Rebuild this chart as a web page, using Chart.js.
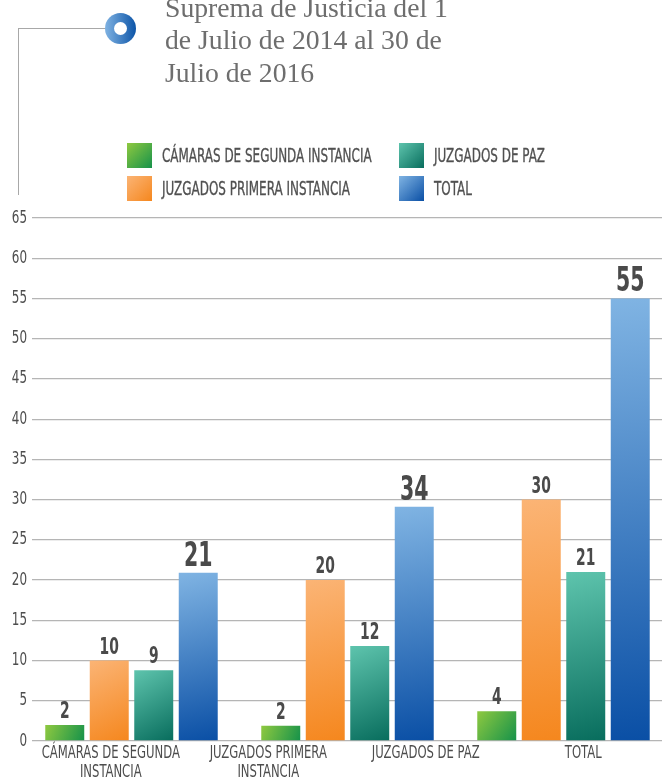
<!DOCTYPE html>
<html><head><meta charset="utf-8">
<script src="https://cdn.jsdelivr.net/npm/chart.js@4.4.1/dist/chart.umd.min.js"></script>
<style>
html,body{margin:0;padding:0;background:#fff;}
#wrap{position:relative;width:663px;height:780px;overflow:hidden;background:#fff;}
#c{position:absolute;left:0;top:0;}
.title{position:absolute;left:165px;top:-8px;font-family:"Liberation Serif","DejaVu Serif",serif;font-size:27.7px;line-height:32.3px;color:#6e6e6e;white-space:nowrap;}
.hline{position:absolute;left:18px;top:28px;width:90px;height:0;border-top:1.5px solid #a8a8a8;}
.vline{position:absolute;left:18px;top:28px;width:0;height:167px;border-left:1.5px solid #a8a8a8;}
.icon{position:absolute;left:105px;top:13px;width:31px;height:31px;border-radius:50%;background:linear-gradient(90deg,#7fb2e2,#0d55a8);}
.icon::after{content:"";position:absolute;left:9px;top:9px;width:13px;height:13px;border-radius:50%;background:#fff;}
.lbox{position:absolute;width:25px;height:25px;}
.ltxt{position:absolute;height:25px;line-height:25px;font-family:"Liberation Sans Narrow","DejaVu Sans Condensed",sans-serif;font-size:20px;color:#505050;-webkit-text-stroke:0.35px #505050;white-space:nowrap;transform:scaleX(0.665);transform-origin:0 50%;}
</style>
</head><body>
<div id="wrap">
  <canvas id="c" width="663" height="780"></canvas>
  <div class="hline"></div><div class="vline"></div><div class="icon"></div>
  <div class="title">Suprema de Justicia del 1<br>de Julio de 2014 al 30 de<br>Julio de 2016</div>
  <div id="legend"></div>
</div>
<script>
// ---- data ----
const categories = [['CÁMARAS DE SEGUNDA','INSTANCIA'],['JUZGADOS PRIMERA','INSTANCIA'],'JUZGADOS DE PAZ','TOTAL'];
const seriesNames = ['CÁMARAS DE SEGUNDA INSTANCIA','JUZGADOS PRIMERA INSTANCIA','JUZGADOS DE PAZ','TOTAL'];
const groupIndex = [0, 1, 2];
const camarasValues = [2, 1.9, 3.7];
const camarasLabels = ['2', '2', '4'];
const primeraValues = [10, 20, 30];
const primeraLabels = ['10', '20', '30'];
const pazValues = [8.8, 11.8, 21];
const pazLabels = ['9', '12', '21'];
const totalValues = [20.9, 29.1, 55];
const totalLabels = ['21', '34', '55'];
const yMin = 0, yMax = 65, yStep = 5;

// ---- styles ----
const gradColors = [['#8fc940','#16924a'],['#fbb475','#f5871e'],['#5ec4ad','#086d5d'],['#80b4e3','#0a4fa5']];
const labelSizes = [23, 23, 23, 34];
const NARROW = "'Liberation Sans Narrow','DejaVu Sans Condensed',sans-serif";

const values = [camarasValues, primeraValues, pazValues, totalValues];
const valueLabels = [camarasLabels, primeraLabels, pazLabels, totalLabels];

// legend (column-major 2x2)
const legendPos = [[127,143],[127,176],[399,143],[399,176]];
const leg = document.getElementById('legend');
seriesNames.forEach((n, i) => {
  const [x, y] = legendPos[i];
  const b = document.createElement('div');
  b.className = 'lbox';
  b.style.left = x + 'px'; b.style.top = y + 'px';
  b.style.background = `linear-gradient(135deg, ${gradColors[i][0]}, ${gradColors[i][1]})`;
  const t = document.createElement('div');
  t.className = 'ltxt';
  t.style.left = (x + 35) + 'px'; t.style.top = y + 'px';
  t.textContent = n;
  leg.appendChild(b); leg.appendChild(t);
});

// condensed text rendering on the canvas (narrow typeface look)
const canvas = document.getElementById('c');
const ctx2d = canvas.getContext('2d');
let textScaleX = 0.76;
const origFillText = ctx2d.fillText.bind(ctx2d);
ctx2d.fillText = function (text, x, y, maxWidth) {
  this.save();
  this.translate(x, y);
  this.scale(textScaleX, 1);
  if (maxWidth !== undefined) origFillText(text, 0, 0, maxWidth / textScaleX);
  else origFillText(text, 0, 0);
  this.restore();
};

const gradientPlugin = {
  id: 'grad',
  beforeDatasetsDraw(chart) {
    const ctx = chart.ctx;
    chart.data.datasets.forEach((ds, di) => {
      chart.getDatasetMeta(di).data.forEach(el => {
        const w = el.width;
        const g = ctx.createLinearGradient(el.x - w / 2, el.y, el.x + w / 2, el.base);
        g.addColorStop(0, gradColors[di][0]);
        g.addColorStop(1, gradColors[di][1]);
        el.options.backgroundColor = g;
      });
    });
  }
};
const labelPlugin = {
  id: 'vlabels',
  afterDatasetsDraw(chart) {
    const ctx = chart.ctx;
    const prev = textScaleX;
    textScaleX = 0.67;
    chart.data.datasets.forEach((ds, di) => {
      chart.getDatasetMeta(di).data.forEach((el, i) => {
        ctx.save();
        ctx.font = `bold ${labelSizes[di]}px ${NARROW}`;
        ctx.fillStyle = '#4a4a4a';
        ctx.textAlign = 'center';
        ctx.textBaseline = 'alphabetic';
        ctx.fillText(valueLabels[di][i], el.x, el.y - 7);
        ctx.restore();
      });
    });
    textScaleX = prev;
  }
};

new Chart(canvas, {
  type: 'bar',
  data: {
    datasets: seriesNames.map((n, di) => ({
      label: n,
      data: groupIndex.map((g, i) => ({ x: g, y: values[di][i] })),
      backgroundColor: () => gradColors[di][1],
      borderWidth: 0,
      categoryPercentage: 0.824,
      barPercentage: 0.876,
      xAxisID: 'x'
    }))
  },
  options: {
    responsive: false,
    animation: false,
    layout: { padding: { top: 218, right: 1, bottom: 0, left: 0 } },
    plugins: { legend: { display: false }, tooltip: { enabled: false } },
    scales: {
      x: { type: 'linear', display: false, offset: false, min: -0.4606, max: 2.456,
           ticks: { stepSize: 1, includeBounds: false } },
      x2: {
        type: 'category', labels: categories, position: 'bottom',
        grid: { display: false, drawTicks: false }, border: { display: false },
        ticks: { color: '#4d4d4d', font: { family: NARROW, size: 17, lineHeight: 1.12 }, padding: 3, maxRotation: 0, minRotation: 0, autoSkip: false },
        afterFit(s) { s.height = 39; }
      },
      y: {
        min: yMin, max: yMax,
        ticks: { stepSize: yStep, color: '#4d4d4d', font: { family: NARROW, size: 17.5 }, padding: 5 },
        grid: { color: '#b5b5b5', lineWidth: 1.3, drawTicks: false },
        border: { display: false },
        afterFit(s) { s.width = 32; }
      }
    }
  },
  plugins: [gradientPlugin, labelPlugin]
});
</script>
</body></html>
